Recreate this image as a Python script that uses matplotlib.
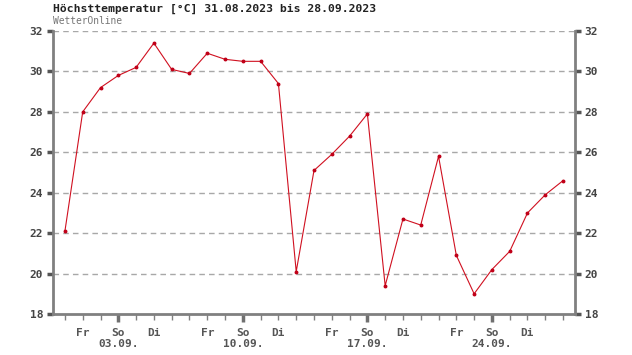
import matplotlib
matplotlib.use("Agg")
import matplotlib.pyplot as plt
from matplotlib.ticker import FixedLocator, FuncFormatter

# Data: daily max temperature 31.08.2023 .. 28.09.2023
dates = ["31.08.", "01.09.", "02.09.", "03.09.", "04.09.", "05.09.", "06.09.", "07.09.",
         "08.09.", "09.09.", "10.09.", "11.09.", "12.09.", "13.09.", "14.09.", "15.09.",
         "16.09.", "17.09.", "18.09.", "19.09.", "20.09.", "21.09.", "22.09.", "23.09.",
         "24.09.", "25.09.", "26.09.", "27.09.", "28.09."]
weekdays = ["Do", "Fr", "Sa", "So", "Mo", "Di", "Mi"] * 4 + ["Do"]
temps = [22.1, 28.0, 29.2, 29.8, 30.2, 31.4, 30.1, 29.9, 30.9, 30.6, 30.5, 30.5, 29.4,
         20.1, 25.1, 25.9, 26.8, 27.9, 19.4, 22.7, 22.4, 25.8, 20.9, 19.0, 20.2, 21.1,
         23.0, 23.9, 24.6]
y_ticks = [18, 20, 22, 24, 26, 28, 30, 32]
title = "Höchsttemperatur [°C] 31.08.2023 bis 28.09.2023"
subtitle = "WetterOnline"

mono = "DejaVu Sans Mono"
fig = plt.figure(figsize=(6.32, 3.55), dpi=100)
ax = fig.add_axes([53/632, 1-314/355, (575-53)/632, (314-31)/355])

x = list(range(len(temps)))
ax.plot(x, temps, color="#d01020", lw=0.8, marker="o", ms=1.8, mec="#c00018", mfc="#c00018", zorder=3)

ax.set_xlim(-0.67, len(temps) - 1 + 0.67)
ax.set_ylim(18, 32)

# grid
for yv in y_ticks[1:]:
    ax.axhline(yv, color="#a8a8a8", lw=1.0, ls=(0, (4, 3)), zorder=1)

# spines
for s in ["left", "right", "bottom"]:
    ax.spines[s].set_color("#808080")
    ax.spines[s].set_linewidth(2)
ax.spines["top"].set_visible(False)

# y ticks both sides
ax.set_yticks(y_ticks)
ax.tick_params(axis="y", which="major", left=True, right=True, labelleft=True, labelright=True,
               direction="out", length=4, width=2.5, color="#555555", labelsize=8,
               labelcolor="#444444", pad=3)
for lab in ax.get_yticklabels():
    lab.set_fontfamily(mono)
    lab.set_fontweight("bold")

# x ticks: major at Sundays (with date), minor every day (labels Fr / Di)
sundays = [i for i, w in enumerate(weekdays) if w == "So"]
ax.xaxis.set_major_locator(FixedLocator(sundays))
ax.xaxis.set_major_formatter(FuncFormatter(lambda v, p: "So\n" + dates[int(round(v))]))
ax.xaxis.set_minor_locator(FixedLocator(x))
ax.xaxis.set_minor_formatter(FuncFormatter(
    lambda v, p: weekdays[int(round(v))] if weekdays[int(round(v))] in ("Fr", "Di") else ""))
ax.tick_params(axis="x", which="major", direction="out", length=6, width=2.5, color="#707070",
               labelsize=8, labelcolor="#555555", pad=4)
ax.tick_params(axis="x", which="minor", direction="out", length=4, width=1, color="#808080",
               labelsize=8, labelcolor="#555555", pad=6)
for lab in ax.get_xticklabels(which="both"):
    lab.set_fontfamily(mono)
    lab.set_fontweight("bold")
    lab.set_linespacing(1.1)

fig.text(53/632, 1-9/355, title, fontsize=8.2, fontweight="bold", family=mono,
         color="#222222", va="center", ha="left")
fig.text(53/632, 1-21/355, subtitle, fontsize=6.9, family=mono, color="#777777",
         va="center", ha="left")

fig.savefig("out.png", dpi=100, facecolor="white")
